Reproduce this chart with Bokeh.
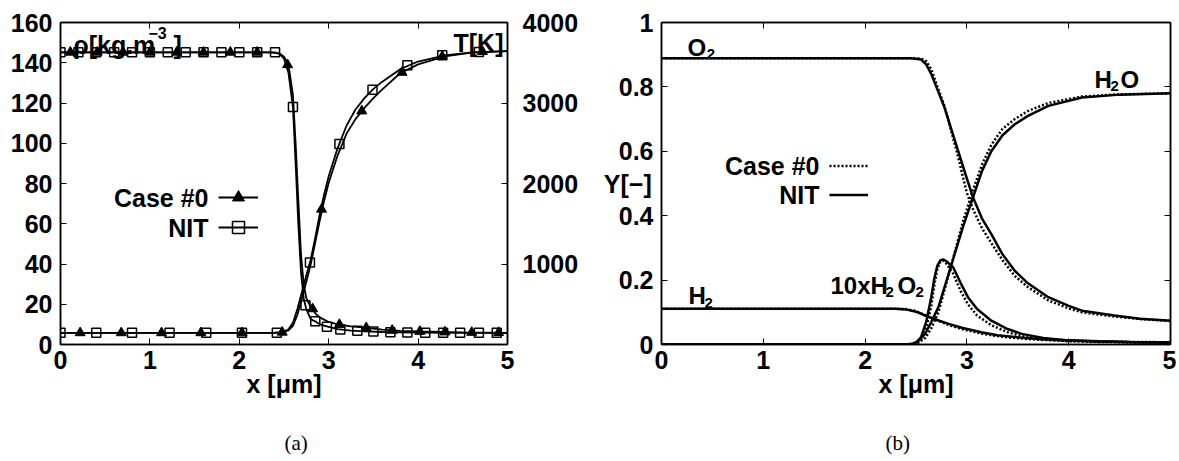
from bokeh.plotting import figure
from bokeh.models import (Range1d, LinearAxis, FixedTicker, Label, Legend, LegendItem,
                          Title, CustomJSTickFormatter)
from bokeh.core.properties import value
from bokeh.layouts import row
from bokeh.embed import file_html
from bokeh.resources import INLINE

FONT = "Liberation Sans"
FS = "25px"
FS_SP = "24px"

# ---------------- panel (a): density (left axis) and temperature (right axis)
rho_x = [0, 2.3, 2.4, 2.45, 2.5, 2.55, 2.6, 2.63, 2.66, 2.69, 2.72, 2.75, 2.8, 2.85, 2.9,
         3.0, 3.1, 3.25, 3.4, 3.6, 3.8, 4.0, 4.5, 5.0]
rho_case0 = [145.2, 145.2, 145.0, 144.6, 143.0, 139.0, 124.0, 100.0, 72.0, 45.0, 30.0, 23.0,
             18.5, 15.5, 13.5, 11.2, 10.0, 9.0, 8.4, 7.4, 6.8, 6.5, 6.0, 5.8]
rho_nit = [145.2, 145.2, 145.0, 144.4, 142.0, 135.0, 118.0, 90.0, 60.0, 36.0, 23.0, 17.5,
           12.5, 11.5, 10.0, 8.8, 7.6, 6.9, 6.5, 6.2, 6.0, 5.9, 5.8, 5.8]

T_x = [0, 2.3, 2.4, 2.45, 2.5, 2.55, 2.6, 2.65, 2.7, 2.75, 2.8, 2.85, 2.9, 2.95, 3.0, 3.1,
       3.2, 3.3, 3.4, 3.5, 3.6, 3.8, 4.0, 4.3, 4.6, 5.0]
T_case0 = [145, 145, 146, 148, 155, 175, 230, 370, 570, 780, 1000, 1270, 1540, 1790, 2010,
           2350, 2620, 2800, 2940, 3060, 3170, 3370, 3480, 3578, 3625, 3645]
T_nit = [145, 145, 147, 150, 160, 190, 270, 440, 650, 860, 1060, 1330, 1620, 1870, 2090,
         2440, 2720, 2920, 3060, 3175, 3265, 3420, 3515, 3592, 3630, 3645]

# markers (Case #0: triangles, NIT: squares)
rho_case0_mx = [0.11, 0.41, 0.7, 1.0, 1.3, 1.6, 1.9, 2.2, 2.54, 2.82, 3.12, 3.42, 3.71, 4.02,
                4.3, 4.6, 4.9]
rho_case0_my = [145.2, 145.2, 145.2, 145.2, 145.2, 145.2, 145.2, 145.2, 139.0, 17.7, 9.9, 8.3,
                7.0, 6.5, 6.2, 6.0, 5.9]
rho_nit_mx = [0, 0.2, 0.4, 0.6, 0.8, 1.0, 1.2, 1.4, 1.6, 1.8, 2.0, 2.2, 2.4, 2.6, 2.74, 2.85,
              2.98, 3.13, 3.32, 3.5, 3.69, 3.88, 4.08, 4.28, 4.47, 4.68, 4.88]
rho_nit_my = [145.2, 145.2, 145.2, 145.2, 145.2, 145.2, 145.2, 145.2, 145.2, 145.2, 145.2, 145.2,
              145.2, 118.0, 19.5, 11.5, 8.8, 7.5, 6.8, 6.4, 6.1, 6.0, 5.9, 5.8, 5.8, 5.8, 5.8]
T_case0_mx = [0.22, 0.68, 1.13, 1.57, 2.03, 2.48, 2.92, 3.37, 3.82, 4.27, 4.72]
T_case0_my = [145, 145, 145, 145, 145, 152, 1680, 2900, 3380, 3578, 3638]
T_nit_mx = [0, 0.4, 0.8, 1.22, 1.63, 2.03, 2.42, 2.79, 3.12, 3.49, 3.88, 4.27, 4.68]
T_nit_my = [145, 145, 145, 145, 145, 145, 146, 1020, 2490, 3165, 3470, 3592, 3632]

x_ticks = [0, 1, 2, 3, 4, 5]
rho_ticks = [0, 20, 40, 60, 80, 100, 120, 140, 160]
T_ticks = [1000, 2000, 3000, 4000]

# ---------------- panel (b): mass fractions
O2_x = [0, 2.45, 2.55, 2.6, 2.65, 2.7, 2.78, 2.9, 3.0, 3.06, 3.15, 3.24, 3.35, 3.47, 3.6, 3.8,
        4.0, 4.13, 4.45, 4.7, 5.0]
O2_nit = [0.889, 0.889, 0.885, 0.87, 0.84, 0.80, 0.736, 0.615, 0.515, 0.457, 0.39, 0.343, 0.28,
          0.229, 0.19, 0.147, 0.12, 0.105, 0.09, 0.08, 0.074]
O2_case0 = [0.889, 0.889, 0.888, 0.88, 0.855, 0.81, 0.74, 0.60, 0.47, 0.42, 0.36, 0.315, 0.262,
            0.213, 0.178, 0.137, 0.112, 0.1, 0.087, 0.079, 0.073]

H2O_x = [0, 2.4, 2.46, 2.52, 2.59, 2.65, 2.72, 2.85, 2.96, 3.06, 3.15, 3.24, 3.35, 3.47, 3.6,
         3.8, 4.13, 4.5, 5.0]
H2O_nit = [0, 0, 0.002, 0.01, 0.033, 0.07, 0.116, 0.25, 0.364, 0.457, 0.54, 0.60, 0.65, 0.684,
           0.71, 0.741, 0.767, 0.776, 0.78]
H2O_case0 = [0, 0, 0.001, 0.005, 0.02, 0.05, 0.10, 0.25, 0.38, 0.48, 0.56, 0.62, 0.67, 0.70,
             0.725, 0.75, 0.77, 0.777, 0.78]

H2O2_x = [0, 2.45, 2.5, 2.55, 2.6, 2.65, 2.68, 2.71, 2.74, 2.77, 2.8, 2.865, 2.94, 3.01, 3.1,
          3.24, 3.4, 3.54, 3.75, 3.97, 4.3, 5.0]
H2O2_nit = [0, 0, 0.005, 0.023, 0.07, 0.147, 0.205, 0.245, 0.262, 0.264, 0.258, 0.24, 0.19,
            0.147, 0.11, 0.074, 0.048, 0.033, 0.02, 0.013, 0.009, 0.005]
H2O2_case0 = [0, 0, 0.003, 0.015, 0.05, 0.12, 0.185, 0.235, 0.258, 0.26, 0.25, 0.22, 0.165,
              0.125, 0.09, 0.06, 0.038, 0.026, 0.016, 0.011, 0.008, 0.005]

H2_x = [0, 2.3, 2.4, 2.5, 2.59, 2.7, 2.82, 2.95, 3.14, 3.3, 3.47, 3.7, 3.97, 4.3, 4.6, 5.0]
H2_nit = [0.111, 0.111, 0.109, 0.102, 0.09, 0.077, 0.064, 0.052, 0.038, 0.029, 0.023, 0.017,
          0.013, 0.01, 0.008, 0.007]
H2_case0 = [0.111, 0.111, 0.11, 0.104, 0.091, 0.076, 0.061, 0.048, 0.034, 0.026, 0.02, 0.015,
            0.011, 0.009, 0.008, 0.007]

Y_ticks = [0, 0.2, 0.4, 0.6, 0.8, 1.0]


def style_axis(ax, labels=True):
    ax.major_label_text_font = FONT
    ax.major_label_text_font_style = "bold"
    ax.major_label_text_font_size = FS
    ax.major_label_text_color = "black"
    ax.major_tick_in = 6
    ax.major_tick_out = 0
    ax.minor_tick_line_color = None
    ax.major_tick_line_color = "black"
    ax.major_tick_line_width = 1
    ax.axis_line_color = "black"
    ax.axis_line_width = 1.5
    ax.major_label_standoff = 8
    ax.axis_label_text_font = FONT
    ax.axis_label_text_font_style = "bold"
    ax.axis_label_text_font_size = FS
    ax.axis_label_text_color = "black"
    if not labels:
        ax.formatter = CustomJSTickFormatter(code="return ''")
        ax.major_label_standoff = 0


def lab(p, x, y, text, size=FS, align="left", baseline="alphabetic", style="bold"):
    p.add_layout(Label(x=x, y=y, text=text, text_font=FONT, text_font_style=style,
                       text_font_size=size, text_align=align, text_baseline=baseline,
                       text_color="black"))


def caption(p, text):
    p.add_layout(Title(text=text, align="left", offset=224, standoff=57,
                       text_font="Liberation Serif", text_font_style="normal",
                       text_font_size="21px", text_color="black"), "below")


# ======================= panel (a)
pa = figure(width=600, height=461, frame_width=447, frame_height=322,
            x_range=Range1d(0, 5), y_range=Range1d(0, 160),
            output_backend="svg", toolbar_location=None,
            min_border_left=60, min_border_right=93, min_border_top=22, min_border_bottom=117)
pa.extra_y_ranges = {"T": Range1d(0, 4000)}
pa.grid.visible = False
pa.outline_line_color = "black"
pa.outline_line_width = 1.5
pa.background_fill_color = "white"
pa.border_fill_color = "white"

pa.xaxis.ticker = FixedTicker(ticks=x_ticks)
pa.yaxis.ticker = FixedTicker(ticks=rho_ticks)
pa.xaxis.axis_label = "x [μm]"
style_axis(pa.xaxis[0])
style_axis(pa.yaxis[0])
pa.xaxis.major_label_standoff = 6
pa.xaxis.axis_label_standoff = -2

ax_T = LinearAxis(y_range_name="T", ticker=FixedTicker(ticks=T_ticks))
style_axis(ax_T)
ax_T.major_label_standoff = 15
pa.add_layout(ax_T, "right")
ax_top_a = LinearAxis(ticker=FixedTicker(ticks=x_ticks))
style_axis(ax_top_a, labels=False)
pa.add_layout(ax_top_a, "above")

l_rho_c0 = pa.line(rho_x, rho_case0, line_color="black", line_width=1.8)
l_rho_nit = pa.line(rho_x, rho_nit, line_color="black", line_width=1.8)
pa.line(T_x, T_case0, line_color="black", line_width=1.8, y_range_name="T")
pa.line(T_x, T_nit, line_color="black", line_width=1.8, y_range_name="T")

s_rho_c0 = pa.scatter(rho_case0_mx, rho_case0_my, marker="triangle", size=10,
                      fill_color="black", line_color="black")
s_rho_nit = pa.scatter(rho_nit_mx, rho_nit_my, marker="square", size=9, fill_alpha=0,
                       line_color="black", line_width=1.5)
pa.scatter(T_case0_mx, T_case0_my, marker="triangle", size=10, fill_color="black",
           line_color="black", y_range_name="T")
pa.scatter(T_nit_mx, T_nit_my, marker="square", size=9, fill_alpha=0, line_color="black",
           line_width=1.5, y_range_name="T")

leg_a = Legend(items=[LegendItem(label=value(" "), renderers=[l_rho_c0, s_rho_c0]),
                      LegendItem(label=value(" "), renderers=[l_rho_nit, s_rho_nit])],
               location=(158, 102), glyph_width=40, glyph_height=30, spacing=0, padding=0,
               margin=0, label_standoff=0, label_width=0, label_height=0,
               label_text_font_size="1px", border_line_color=None,
               background_fill_alpha=0)
pa.add_layout(leg_a)

lab(pa, 1.655, 73.0, "Case #0", align="right", baseline="middle")
lab(pa, 1.655, 58.1, "NIT", align="right", baseline="middle")
lab(pa, 0.142, 148.6, "ρ[kg.m")
lab(pa, 0.984, 155.0, "−3", size="16px")
lab(pa, 1.264, 148.6, "]")
lab(pa, 4.396, 149.6, "T[K]")

caption(pa, "(a)")

# ======================= panel (b)
pb = figure(width=575, height=461, frame_width=509, frame_height=322,
            x_range=Range1d(0, 5), y_range=Range1d(0, 1),
            output_backend="svg", toolbar_location=None,
            min_border_left=60, min_border_right=6, min_border_top=22, min_border_bottom=117)
pb.grid.visible = False
pb.outline_line_color = "black"
pb.outline_line_width = 1.5
pb.background_fill_color = "white"
pb.border_fill_color = "white"

pb.xaxis.ticker = FixedTicker(ticks=x_ticks)
pb.yaxis.ticker = FixedTicker(ticks=Y_ticks)
pb.xaxis.axis_label = "x [μm]"
style_axis(pb.xaxis[0])
style_axis(pb.yaxis[0])
pb.xaxis.major_label_standoff = 6
pb.xaxis.axis_label_standoff = -2
pb.yaxis.axis_label = "Y[−]"
pb.yaxis.axis_label_orientation = "horizontal"
pb.yaxis.axis_label_standoff = -36
ax_top_b = LinearAxis(ticker=FixedTicker(ticks=x_ticks))
style_axis(ax_top_b, labels=False)
pb.add_layout(ax_top_b, "above")
ax_right_b = LinearAxis(ticker=FixedTicker(ticks=Y_ticks))
style_axis(ax_right_b, labels=False)
pb.add_layout(ax_right_b, "right")

DOT = "2 2"
LW = 2.5
c_o2 = pb.line(O2_x, O2_case0, line_color="black", line_width=LW, line_dash=DOT)
pb.line(H2O_x, H2O_case0, line_color="black", line_width=LW, line_dash=DOT)
pb.line(H2O2_x, H2O2_case0, line_color="black", line_width=LW, line_dash=DOT)
pb.line(H2_x, H2_case0, line_color="black", line_width=LW, line_dash=DOT)
n_o2 = pb.line(O2_x, O2_nit, line_color="black", line_width=LW)
pb.line(H2O_x, H2O_nit, line_color="black", line_width=LW)
pb.line(H2O2_x, H2O2_nit, line_color="black", line_width=LW)
pb.line(H2_x, H2_nit, line_color="black", line_width=LW)

leg_b = Legend(items=[LegendItem(label=value(" "), renderers=[c_o2]),
                      LegendItem(label=value(" "), renderers=[n_o2])],
               location=(168, 135), glyph_width=39, glyph_height=29, spacing=0, padding=0,
               margin=0, label_standoff=0, label_width=0, label_height=0,
               label_text_font_size="1px", border_line_color=None,
               background_fill_alpha=0)
pb.add_layout(leg_b)

lab(pb, 1.552, 0.555, "Case #0", align="right", baseline="middle")
lab(pb, 1.552, 0.465, "NIT", align="right", baseline="middle")
SUB = "15px"
lab(pb, 0.255, 0.921, "O", size=FS_SP)
lab(pb, 0.445, 0.902, "2", size=SUB)
lab(pb, 4.253, 0.822, "H", size=FS_SP)
lab(pb, 4.411, 0.803, "2", size=SUB)
lab(pb, 4.509, 0.822, "O", size=FS_SP)
lab(pb, 0.265, 0.152, "H", size=FS_SP)
lab(pb, 0.422, 0.130, "2", size=SUB)
lab(pb, 1.660, 0.183, "10xH", size=FS_SP)
lab(pb, 2.200, 0.162, "2", size=SUB)
lab(pb, 2.318, 0.183, "O", size=FS_SP)
lab(pb, 2.495, 0.162, "2", size=SUB)

caption(pb, "(b)")

layout = row(pa, pb)
open("out.html", "w").write(file_html(layout, INLINE))
